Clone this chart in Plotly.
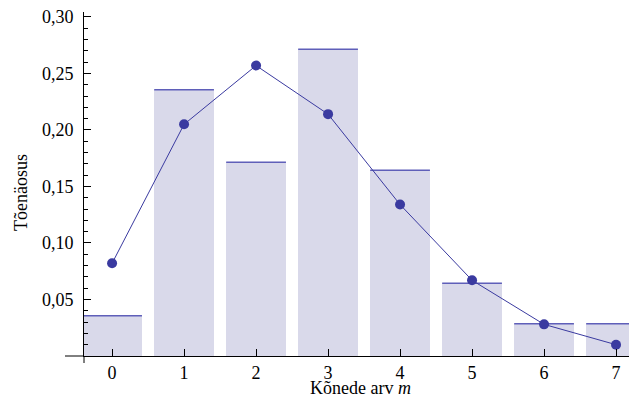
import plotly.graph_objects as go

calls = [0, 1, 2, 3, 4, 5, 6, 7]
observed = [0.0357, 0.2357, 0.1714, 0.2714, 0.1643, 0.0643, 0.0286, 0.0286]
poisson = [0.082, 0.205, 0.257, 0.214, 0.134, 0.067, 0.028, 0.010]
ytick_vals = [0.05, 0.10, 0.15, 0.20, 0.25, 0.30]
ytick_text = ["0,05", "0,10", "0,15", "0,20", "0,25", "0,30"]

bar_w = 0.83
FONT = "Liberation Serif, Times New Roman, serif"

fig = go.Figure()
fig.add_trace(go.Bar(x=calls, y=observed, width=bar_w,
                     marker=dict(color="rgb(217,217,234)", line=dict(width=0)),
                     showlegend=False))
# top edges of bars
tx, ty = [], []
for c, v in zip(calls, observed):
    tx += [c - bar_w / 2, c + bar_w / 2, None]
    ty += [v, v, None]
fig.add_trace(go.Scatter(x=tx, y=ty, mode="lines",
                         line=dict(color="rgb(95,95,185)", width=1.5),
                         showlegend=False, hoverinfo="skip"))
fig.add_trace(go.Scatter(x=calls, y=poisson, mode="lines+markers",
                         line=dict(color="rgb(58,58,160)", width=1),
                         marker=dict(color="rgb(58,58,160)", size=10),
                         showlegend=False, cliponaxis=False))

W, H = 629, 398
L, R, T, B = 84, 0, 12, 42
pw, ph = W - L - R, H - T - B

fig.update_layout(
    width=W, height=H,
    margin=dict(l=L, r=R, t=T, b=B, pad=0, autoexpand=False),
    plot_bgcolor="white", paper_bgcolor="white",
    font=dict(family=FONT, size=18, color="black"),
    bargap=0,
    xaxis=dict(range=[-0.39, 7.18], tickvals=calls, ticktext=[str(c) for c in calls],
               ticks="inside", ticklen=7, tickcolor="black", tickwidth=1,
               showline=True, linecolor="black", linewidth=1, automargin=False,
               showgrid=False, zeroline=False, fixedrange=True,
               tickfont=dict(family=FONT, size=18)),
    yaxis=dict(range=[0, 0.3044], tickvals=ytick_vals, ticktext=ytick_text,
               ticks="inside", ticklen=7, tickcolor="black", tickwidth=1,
               minor=dict(dtick=0.01, tick0=0, ticks="inside", ticklen=4,
                          tickcolor="black", tickwidth=1, showgrid=False),
               showline=True, linecolor="black", linewidth=1, automargin=False,
               showgrid=False, zeroline=False, fixedrange=True,
               ticklabelstandoff=6,
               tickfont=dict(family=FONT, size=18)),
    shapes=[
        dict(type="line", xref="paper", yref="paper", x0=(65 - L) / pw, x1=0, y0=0, y1=0,
             line=dict(color="black", width=1)),
        dict(type="line", xref="paper", yref="paper", x0=0, x1=0, y0=0, y1=-7 / ph,
             line=dict(color="black", width=1)),
    ],
    annotations=[
        dict(text="Kõnede arv <i>m</i>", xref="paper", yref="paper",
             x=(360 - L) / pw, y=-(388 - (H - B)) / ph, yanchor="middle",
             xanchor="center", showarrow=False, font=dict(family=FONT, size=18)),
        dict(text="Tõenäosus", xref="paper", yref="paper", textangle=-90,
             x=-(L - 21) / pw, y=1 - (193 - T) / ph, xanchor="center", yanchor="middle",
             showarrow=False, font=dict(family=FONT, size=18)),
    ],
)

fig.write_html("out.html", config={"displayModeBar": False},
               post_script="document.body.style.margin='0';document.body.style.overflow='hidden';")
